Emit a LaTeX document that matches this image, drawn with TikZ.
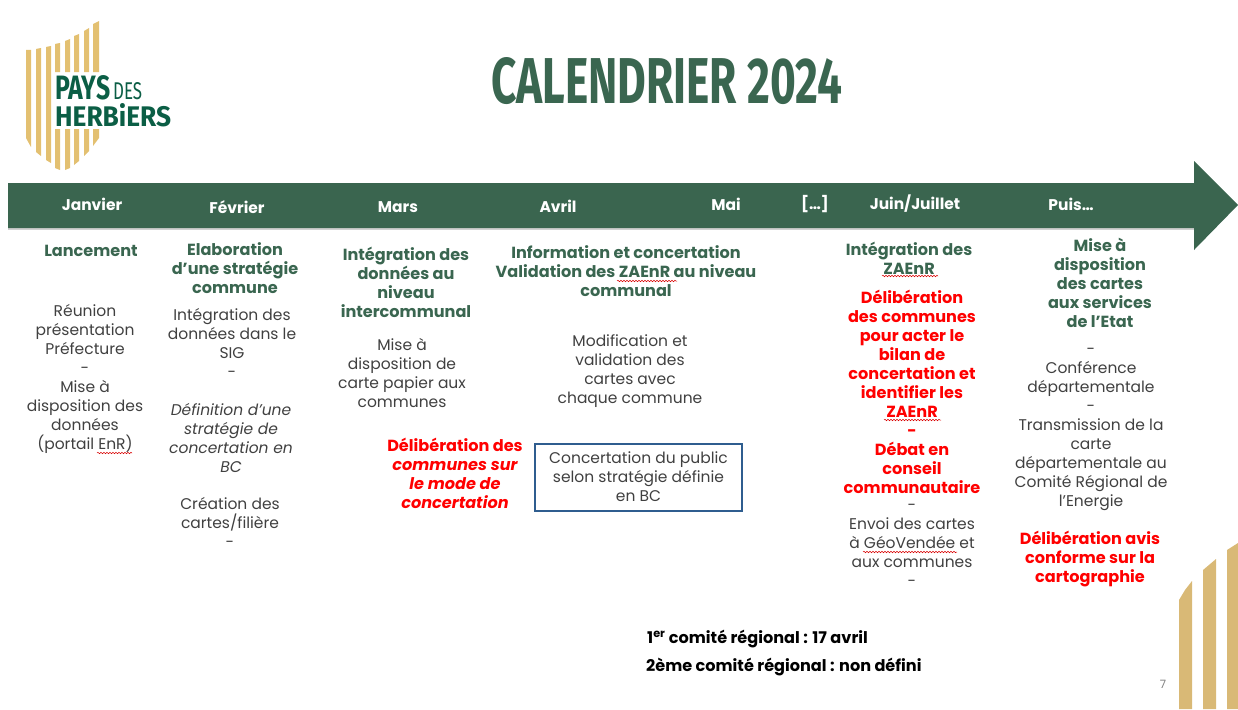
\documentclass[tikz,border=0pt]{standalone}
\usepackage{fontspec}
\setmainfont{Poppins}
\newfontfamily\titlefont{Fira Sans}
\usetikzlibrary{decorations.pathmorphing}
\definecolor{bargreen}{HTML}{3A654F}
\definecolor{headgreen}{HTML}{3A6650}
\definecolor{logogreen}{HTML}{0B5E45}
\definecolor{logogold}{HTML}{E3C071}
\definecolor{cornergold}{HTML}{D9B976}
\definecolor{bodygray}{HTML}{404040}
\definecolor{boxblue}{HTML}{2F5D8F}
\tikzset{
  txt/.style={inner sep=0pt,align=center,anchor=north,text=bodygray,font=\fontsize{15.5}{19}\selectfont},
  head/.style={txt,text=headgreen,font=\fontsize{16.1}{19}\selectfont\bfseries},
  redtxt/.style={txt,text=red,font=\fontsize{16.1}{19}\selectfont\bfseries},
  month/.style={inner sep=0pt,text=white,font=\fontsize{15.5}{15}\selectfont\bfseries},
  squig/.style={draw=red!85!black,line width=0.5pt,decorate,decoration={snake,amplitude=0.7pt,segment length=3pt}},
}
\begin{document}
\begin{tikzpicture}[x=1pt,y=-1pt]
\useasboundingbox (0,0) rectangle (1238,709);
% logo stripes
\fill[logogold] (26,50)--(31,50)--(31,147)--(26,138)--cycle;
\fill[logogold] (36,49)--(41,48)--(41,156)--(36,152)--cycle;
\fill[logogold] (46,47)--(51,46)--(51,163)--(46,160)--cycle;
\fill[logogold] (55,44)--(60,43)--(60,72)--(55,72)--cycle;
\fill[logogold] (65,41)--(70,39)--(70,72)--(65,72)--cycle;
\fill[logogold] (74,36)--(79,34)--(79,72)--(74,72)--cycle;
\fill[logogold] (84,31)--(89,28)--(89,72)--(84,72)--cycle;
\fill[logogold] (93,24)--(99,21)--(99,72)--(93,72)--cycle;
\fill[logogold] (55,129)--(60,129)--(60,170)--(55,168)--cycle;
\fill[logogold] (65,129)--(70,129)--(70,168)--(65,170)--cycle;
\fill[logogold] (74,129)--(79,129)--(79,161)--(74,165)--cycle;
\fill[logogold] (84,129)--(89,129)--(89,151)--(84,156)--cycle;
\fill[logogold] (93,129)--(99,129)--(99,138)--(93,146)--cycle;
% logo text
\node[inner sep=0pt,anchor=north west,text=logogreen,align=left,font=\titlefont\bfseries] (logo) at (55,75) {\resizebox{55pt}{24pt}{PAYS}\hspace{3pt}\resizebox{29pt}{17pt}{\mdseries DES}\\[3pt]\resizebox{116pt}{23pt}{HERBiERS}};
% title
\node[inner sep=0pt,anchor=north west,text=headgreen,font=\titlefont\bfseries] (title) at (491,57) {\resizebox{351pt}{46pt}{CALENDRIER 2024}};
% corner
\fill[cornergold] (1179,600)--(1185,590)--(1192,581)--(1192,709)--(1179,709)--cycle;
\fill[cornergold] (1203,570)--(1216,559)--(1216,709)--(1203,709)--cycle;
\fill[cornergold] (1227,550)--(1238,543)--(1238,709)--(1227,709)--cycle;
% arrow
\fill[black!18] (8,184)--(1194,184)--(1194,229.5)--(8,229.5)--cycle;
\fill[bargreen] (8,183)--(1194,183)--(1194,161)--(1238,205)--(1194,250)--(1194,228)--(8,228)--cycle;
% months
\node[month] (m1) at (92,204) {Janvier};
\node[month] (m2) at (237,207) {Février};
\node[month] (m3) at (398,207) {Mars};
\node[month] (m4) at (558,206) {Avril};
\node[month] (m5) at (726,204) {Mai};
\node[month] (m6) at (815,204) {[…]};
\node[month] (m7) at (915,204) {Juin/Juillet};
\node[month] (m8) at (1071,204) {Puis…};
% janvier
\node[head] (a1) at (91,245) {Lancement};
\node[txt] (a2) at (85,304) {Réunion\\présentation\\Préfecture\\-\\Mise à\\disposition des\\données\\(portail EnR)};
% fevrier
\node[head] (b1) at (235,242) {Elaboration\\d’une stratégie\\commune};
\node[txt] (b2) at (232,308.5) {Intégration des\\données dans le\\SIG\\-};
\node[txt,font=\fontsize{15.5}{19}\selectfont\itshape] (b3) at (231,403) {Définition d’une\\stratégie de\\concertation en\\BC};
\node[txt] (b4) at (230,497) {Création des\\cartes/filière\\-};
% mars
\node[head] (c1) at (406,247) {Intégration des\\données au\\niveau\\intercommunal};
\node[txt] (c2) at (402,338) {Mise à\\disposition de\\carte papier aux\\communes};
\node[redtxt] (c3) at (455,438) {Délibération des\\{\itshape communes sur}\\{\itshape le mode de}\\{\itshape concertation}};
% avril
\node[head] (d1) at (626,245) {Information et concertation\\Validation des ZAEnR au niveau\\communal};
\node[txt] (d2) at (630,334) {Modification et\\validation des\\cartes avec\\chaque commune};
\node[draw=boxblue,line width=2pt,minimum width=207pt,minimum height=67pt,inner sep=0pt,text=bodygray,align=center,font=\fontsize{15.5}{19}\selectfont] (d3) at (638.5,477) {Concertation du public\\selon stratégie définie\\en BC};
% juin
\node[head] (e1) at (909,242) {Intégration des\\ZAEnR};
\node[redtxt] (e2) at (912,290) {Délibération\\des communes\\pour acter le\\bilan de\\concertation et\\identifier les\\ZAEnR\\-\\Débat en\\conseil\\communautaire};
\node[txt] (e3) at (912,504) {-\\Envoi des cartes\\à GéoVendée et\\aux communes\\-};
% puis
\node[head] (f1) at (1100,238) {Mise à\\disposition\\des cartes\\aux services\\de l’Etat};
\node[txt] (f2) at (1091,348) {-\\Conférence\\départementale\\-\\Transmission de la\\carte\\départementale au\\Comité Régional de\\l’Energie};
\node[redtxt] (f3) at (1090,531) {Délibération avis\\conforme sur la\\cartographie};
% bottom
\node[inner sep=0pt,anchor=west,text=black,font=\fontsize{16.1}{19}\selectfont\bfseries] (g1) at (647,639) {1\textsuperscript{er} comité régional : 17 avril};
\node[inner sep=0pt,anchor=west,text=black,font=\fontsize{16.1}{19}\selectfont\bfseries] (g2) at (646,667) {2ème comité régional : non défini};
\node[inner sep=0pt,text=gray,font=\fontsize{11.5}{14}\selectfont] (pg) at (1163,684) {7};
% spell-check squiggles
\draw[squig] (97,453)--(132,453);
\draw[squig] (617,281)--(677,281);
\draw[squig] (882,276)--(938,276);
\draw[squig] (884,420)--(941,420);
\draw[squig] (863,552)--(957,552);
\end{tikzpicture}
\end{document}
